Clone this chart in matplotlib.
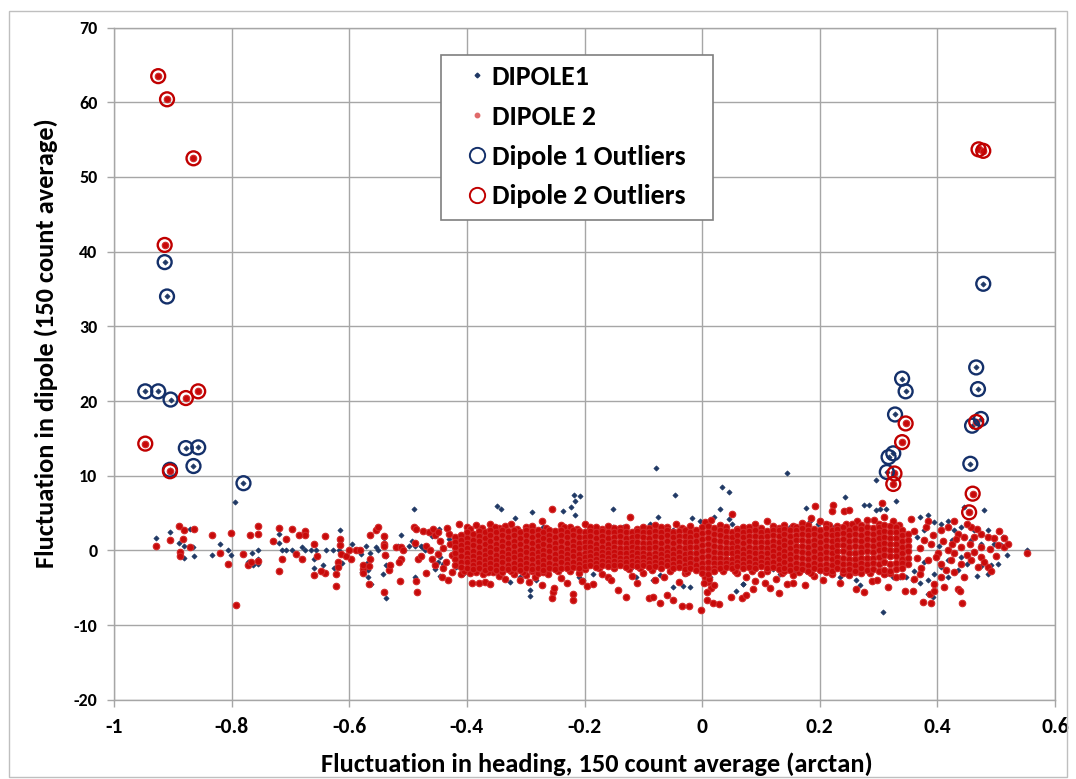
import matplotlib
matplotlib.use("Agg")
import matplotlib.pyplot as plt
import matplotlib.font_manager as fm
from matplotlib.lines import Line2D
from matplotlib.patches import Rectangle
import numpy as np


def _has_bold(name):
    for f in fm.fontManager.ttflist:
        if f.name != name:
            continue
        w = f.weight
        if isinstance(w, str):
            if w.lower() in ('bold', 'heavy', 'black', 'extra bold', 'semibold', 'demibold'):
                return True
            try:
                if int(w) >= 600:
                    return True
            except ValueError:
                pass
        elif w >= 600:
            return True
    return False


FONT = next(c for c in ['Carlito', 'Lato', 'Open Sans', 'Noto Sans', 'Liberation Sans', 'DejaVu Sans']
            if _has_bold(c))
plt.rcParams['font.family'] = [FONT, 'DejaVu Sans']
plt.rcParams['font.weight'] = 'bold'

# ---------------- data ----------------
# Dipole 1 outliers (ringed points)
d1_out_x = [-0.914, -0.910, -0.947, -0.925, -0.904, -0.878, -0.857, -0.865, -0.905, -0.780,
            0.478, 0.340, 0.346, 0.466, 0.469, 0.474, 0.459, 0.328, 0.325, 0.317, 0.314, 0.456]
d1_out_y = [38.6, 34.0, 21.3, 21.3, 20.2, 13.7, 13.8, 11.3, 10.8, 9.0,
            35.7, 23.0, 21.3, 24.5, 21.6, 17.6, 16.7, 18.2, 13.0, 12.5, 10.5, 11.6]
# Dipole 2 outliers (ringed points)
d2_out_x = [-0.925, -0.910, -0.865, -0.914, -0.878, -0.857, -0.947, -0.905,
            0.470, 0.478, 0.346, 0.340, 0.327, 0.325, 0.466, 0.460, 0.454]
d2_out_y = [63.5, 60.4, 52.5, 40.9, 20.4, 21.3, 14.3, 10.6,
            53.7, 53.5, 17.0, 14.5, 10.3, 8.9, 17.2, 7.6, 5.1]

# DIPOLE1 scattered points (x, y)
d1_left_pts = [
    (-0.928, 1.6), (-0.905, 2.4), (-0.871, 2.9), (-0.889, 1.0), (-0.881, 0.6), (-0.866, 0.4),
    (-0.881, -1.0), (-0.864, -0.7), (-0.820, 0.8), (-0.833, -0.6), (-0.806, 0.0), (-0.801, -0.6),
    (-0.794, 6.5), (-0.772, -1.5), (-0.764, -2.0), (-0.756, 0.0), (-0.766, -0.3), (-0.756, -1.2),
    (-0.756, -1.8), (-0.720, 2.2), (-0.720, 1.0), (-0.714, 0.0), (-0.708, 0.1), (-0.697, 0.0),
    (-0.680, 0.4), (-0.675, 0.0), (-0.665, 0.0), (-0.656, 0.0), (-0.660, -1.1), (-0.660, -2.4),
    (-0.644, -1.9), (-0.640, 0.0), (-0.628, 0.0), (-0.616, 2.7), (-0.616, 1.2), (-0.618, 0.1),
    (-0.620, -1.9), (-0.626, -2.3), (-0.612, -1.7), (-0.595, 0.8), (-0.580, -0.5), (-0.583, 0.1),
    (-0.568, -2.6), (-0.568, -3.5), (-0.570, -1.7), (-0.565, -0.3), (-0.572, 0.6), (-0.579, -2.9),
    (-0.563, -4.5), (-0.554, 0.5), (-0.551, 0.1), (-0.541, 1.6), (-0.537, -0.7), (-0.538, -2.0),
    (-0.543, -3.2), (-0.538, -6.4), (-0.517, 0.6), (-0.512, 2.0), (-0.507, 0.1), (-0.499, 0.6),
    (-0.494, 1.2), (-0.489, 0.6), (-0.490, 5.5), (-0.488, 2.9), (-0.488, -3.5), (-0.478, 0.6),
    (-0.471, 0.0), (-0.460, 1.9), (-0.448, 2.9), (-0.450, -1.5), (-0.455, -2.5), (-0.445, -3.4),
]
d1_core_pts = [
    (-0.477, 0.5), (-0.466, 0.2), (-0.452, 2.0), (-0.446, -0.9), (-0.418, -2.2), (-0.407, -3.1),
    (-0.378, 2.2), (-0.367, 2.5), (-0.359, -2.2), (-0.347, -2.9), (-0.338, -2.7), (-0.310, -2.2),
    (-0.293, -2.2), (-0.327, -4.2), (-0.310, -3.6), (-0.282, -4.0), (-0.270, 3.1), (-0.265, 2.0),
    (-0.231, -1.3), (-0.214, -2.2), (-0.203, -4.0), (-0.185, -3.1), (-0.171, 2.7), (-0.151, 3.1),
    (-0.140, 2.9), (-0.134, 3.2), (-0.112, -3.6), (-0.089, 3.6), (-0.083, -4.0), (-0.072, -3.3),
    (-0.049, 2.7), (-0.032, 2.7), (-0.049, -4.9), (-0.032, -4.7), (-0.021, -4.9), (-0.015, -1.3),
    (0.002, -2.2), (0.013, -3.6), (0.033, 2.7), (0.050, 3.6), (0.058, -5.4), (0.070, -4.5),
    (0.073, -2.2), (-0.349, 6.0), (-0.342, 5.5), (-0.319, 4.3), (-0.289, 5.2), (-0.237, 5.3),
    (-0.223, 5.8), (-0.216, 6.6), (-0.218, 7.4), (-0.207, 7.3), (-0.216, 4.7), (-0.151, 5.5),
    (-0.075, 4.5), (-0.0785, 11.1), (-0.046, 7.4), (-0.017, 4.4), (0.034, 8.5), (0.046, 7.8),
    (0.031, 5.5), (0.020, 4.5), (0.046, 4.2), (-0.004, 4.0), (-0.292, -5.3), (-0.292, -6.1),
    (-0.210, -3.6), (-0.430, 1.5), (-0.440, -1.8), (-0.400, 2.6), (-0.390, -2.7), (-0.250, -2.6),
    (-0.180, 2.6), (-0.120, -2.2), (-0.060, 2.8), (0.100, 2.9), (0.120, -2.5), (0.200, -2.8),
    (0.220, 3.1), (0.270, -2.8), (0.300, 3.3), (0.260, 3.2), (0.160, -2.7), (0.070, -4.5),
    (0.1435, 10.4), (0.177, 5.7), (0.149, 3.1), (0.183, 4.0), (0.197, 3.6), (0.243, 7.1),
    (0.276, 6.1), (0.284, 6.1), (0.296, 5.4), (0.302, 5.5), (0.313, 5.5), (0.295, 9.4),
    (0.330, 6.6), (0.132, -3.1), (0.177, -2.7), (0.234, -3.6), (0.262, -4.0), (0.268, -4.6),
    (0.313, -3.1), (0.324, -3.6), (0.336, -3.6), (0.347, -3.6), (0.308, -8.2),
]
d1_right_pts = [
    (0.358, -4.0), (0.370, -4.4), (0.384, -5.8), (0.392, -6.2), (0.370, 4.5), (0.384, 4.7),
    (0.395, 3.8), (0.406, 3.6), (0.418, 4.0), (0.446, 5.8), (0.480, 5.4), (0.429, 2.7),
    (0.440, 3.1), (0.463, 2.7), (0.486, 2.7), (0.457, 1.4), (0.474, 0.9), (0.497, 0.9),
    (0.508, 0.7), (0.518, -0.6), (0.553, 0.0), (0.463, -0.4), (0.440, -0.9), (0.418, -1.3),
    (0.406, -2.2), (0.395, -3.1), (0.384, -4.0), (0.418, -3.6), (0.451, -1.8), (0.474, -2.1),
    (0.491, -2.0), (0.503, -1.8), (0.486, -3.1), (0.365, 1.8), (0.378, -1.5), (0.402, 0.6),
    (0.425, 1.4), (0.435, -2.6), (0.468, -3.4), (0.512, 1.8), (0.378, 2.8), (0.360, -2.8),
]

# DIPOLE 2 scattered points (x, y)
d2_left_pts = [
    (-0.928, 0.6), (-0.889, 3.3), (-0.905, 1.4), (-0.881, 2.7), (-0.864, 2.9), (-0.882, 1.5),
    (-0.871, 0.5), (-0.888, -0.2), (-0.888, -0.7), (-0.833, 2.0), (-0.820, -0.3), (-0.801, 2.3),
    (-0.806, -1.8), (-0.793, -7.3), (-0.781, -0.5), (-0.772, -2.0), (-0.769, 2.0), (-0.755, 3.3),
    (-0.756, 2.2), (-0.768, -1.6), (-0.756, -1.4), (-0.730, 1.2), (-0.720, 3.0), (-0.719, -2.8),
    (-0.708, 1.5), (-0.697, 2.9), (-0.714, -1.1), (-0.691, -0.5), (-0.680, -1.1), (-0.675, 2.6),
    (-0.675, 2.0), (-0.685, 2.0), (-0.660, 0.9), (-0.655, -0.8), (-0.660, -3.3), (-0.641, 1.9),
    (-0.641, -3.0), (-0.648, -2.8), (-0.616, 1.5), (-0.616, 0.7), (-0.614, -0.5), (-0.620, -1.5),
    (-0.620, -2.2), (-0.622, -3.2), (-0.623, -4.8), (-0.598, -1.1), (-0.600, 0.0), (-0.605, -0.7),
    (-0.589, 0.1), (-0.582, 0.1), (-0.577, -2.5), (-0.577, -3.0), (-0.577, -2.0), (-0.567, -4.5),
    (-0.567, -2.1), (-0.565, -1.1), (-0.565, 2.0), (-0.554, 2.8), (-0.551, 3.2), (-0.541, 1.9),
    (-0.541, 0.9), (-0.541, 0.6), (-0.540, -0.6), (-0.532, -2.6), (-0.541, -5.6), (-0.530, -2.0),
    (-0.520, 0.5), (-0.512, 0.4), (-0.513, -4.1), (-0.512, -1.1), (-0.515, -1.5), (-0.508, 0.0),
    (-0.490, 3.2), (-0.488, 1.0), (-0.486, 2.9), (-0.487, -4.1), (-0.485, -5.6), (-0.484, -1.1),
    (-0.475, 2.6), (-0.465, 2.5), (-0.458, 2.9), (-0.455, 2.0), (-0.450, 2.4), (-0.470, -3.0),
    (-0.460, -1.2), (-0.450, -0.5), (-0.445, 1.2), (-0.440, 0.3), (-0.435, -1.6), (-0.430, 2.2),
    (-0.428, 0.8), (-0.425, -0.6), (-0.470, 0.6), (-0.462, 0.0), (-0.455, -2.0), (-0.440, -2.4),
    (-0.478, -0.8), (-0.434, 3.0),
]
# dense band: column positions and the y values stacked in each column
d2_core_x = [-0.42, -0.41, -0.40, -0.39, -0.38, -0.37, -0.36, -0.35, -0.34, -0.33,
             -0.32, -0.31, -0.30, -0.29, -0.28, -0.27, -0.26, -0.25, -0.24, -0.23,
             -0.22, -0.21, -0.20, -0.19, -0.18, -0.17, -0.16, -0.15, -0.14, -0.13,
             -0.12, -0.11, -0.10, -0.09, -0.08, -0.07, -0.06, -0.05, -0.04, -0.03,
             -0.02, -0.01, 0.00, 0.01, 0.02, 0.03, 0.04, 0.05, 0.06, 0.07,
             0.08, 0.09, 0.10, 0.11, 0.12, 0.13, 0.14, 0.15, 0.16, 0.17,
             0.18, 0.19, 0.20, 0.21, 0.22, 0.23, 0.24, 0.25, 0.26, 0.27,
             0.28, 0.29, 0.30, 0.31, 0.32, 0.33, 0.34, 0.35]
d2_core_y = [
    [1.8, 1.1, 0.4, -0.4, -1.1, -1.9],
    [2.1, 1.4, 0.7, 0.0, -0.8, -1.5, -2.2],
    [2.4, 1.7, 1.0, 0.3, -0.3, -1.0, -1.6, -2.3],
    [2.2, 1.4, 0.7, -0.1, -0.8, -1.4, -2.0, -2.5],
    [2.6, 1.9, 1.2, 0.5, -0.3, -1.0, -1.7, -2.4],
    [2.4, 1.6, 0.8, 0.1, -0.6, -1.3, -2.0, -2.6],
    [2.7, 2.0, 1.3, 0.5, -0.2, -1.0, -1.7, -2.4],
    [2.5, 1.7, 0.9, 0.2, -0.6, -1.3, -2.0, -2.6],
    [2.8, 2.1, 1.3, 0.6, -0.2, -0.9, -1.6, -2.3],
    [2.6, 1.8, 1.0, 0.2, -0.5, -1.2, -1.9, -2.5],
    [2.7, 2.0, 1.3, 0.6, -0.2, -0.9, -1.7, -2.4],
    [2.5, 1.7, 0.9, 0.1, -0.6, -1.3, -2.0, -2.6],
    [2.8, 2.1, 1.3, 0.5, -0.2, -1.0, -1.7, -2.4],
    [2.6, 1.8, 1.0, 0.2, -0.5, -1.2, -1.9, -2.5],
    [2.7, 2.0, 1.3, 0.6, -0.2, -0.9, -1.6, -2.3],
    [2.5, 1.7, 0.9, 0.1, -0.6, -1.3, -2.0, -2.6],
    [2.8, 2.1, 1.4, 0.6, -0.1, -0.9, -1.7, -2.4],
    [2.6, 1.8, 1.0, 0.3, -0.5, -1.2, -1.9, -2.5],
    [2.7, 2.0, 1.3, 0.5, -0.2, -0.9, -1.6, -2.3],
    [2.5, 1.8, 1.0, 0.2, -0.5, -1.2, -1.8, -2.4],
    [2.8, 2.1, 1.3, 0.6, -0.1, -0.8, -1.5, -2.2],
    [2.6, 1.8, 1.0, 0.3, -0.5, -1.1, -1.8, -2.4],
    [2.5, 1.8, 1.1, 0.4, -0.3, -0.9, -1.5, -2.1],
    [2.6, 1.9, 1.1, 0.4, -0.2, -0.8, -1.4, -2.0],
    [2.4, 1.7, 0.9, 0.2, -0.5, -1.1, -1.7, -2.2],
    [2.6, 1.9, 1.2, 0.5, -0.2, -0.8, -1.4, -1.9],
    [2.5, 1.7, 0.9, 0.2, -0.4, -1.0, -1.6, -2.1],
    [2.4, 1.8, 1.1, 0.4, -0.2, -0.8, -1.4, -1.9],
    [2.6, 1.9, 1.1, 0.3, -0.4, -1.0, -1.5, -2.0],
    [2.5, 1.7, 1.0, 0.3, -0.4, -1.0, -1.6, -2.2],
    [2.4, 1.8, 1.1, 0.4, -0.2, -0.8, -1.4, -1.9],
    [2.6, 1.9, 1.1, 0.3, -0.4, -1.0, -1.6, -2.1],
    [2.5, 1.8, 1.0, 0.3, -0.3, -0.9, -1.5, -2.0],
    [2.4, 1.7, 1.0, 0.3, -0.5, -1.1, -1.7, -2.2],
    [2.6, 1.9, 1.1, 0.4, -0.3, -0.9, -1.5, -2.1],
    [2.5, 1.8, 1.0, 0.2, -0.5, -1.1, -1.7, -2.3],
    [2.7, 2.0, 1.2, 0.5, -0.2, -0.8, -1.4, -2.0],
    [2.5, 1.8, 1.0, 0.2, -0.5, -1.2, -1.8, -2.4],
    [2.6, 1.9, 1.2, 0.5, -0.2, -0.9, -1.6, -2.2],
    [2.7, 1.9, 1.1, 0.3, -0.5, -1.2, -1.9, -2.5],
    [2.5, 1.8, 1.1, 0.4, -0.3, -1.0, -1.7, -2.3],
    [2.8, 2.0, 1.2, 0.4, -0.4, -1.1, -1.9, -2.6],
    [3.1, 2.3, 1.5, 0.7, -0.1, -0.9, -1.7, -2.4, -3.0],
    [3.3, 2.5, 1.7, 0.9, 0.1, -0.7, -1.5, -2.3, -3.2],
    [3.0, 2.2, 1.4, 0.6, -0.2, -1.0, -1.7, -2.3, -2.8],
    [2.7, 2.0, 1.2, 0.4, -0.3, -1.0, -1.7, -2.4],
    [2.6, 1.8, 1.1, 0.3, -0.4, -1.1, -1.7, -2.2],
    [2.5, 1.8, 1.0, 0.3, -0.4, -1.1, -1.8, -2.4],
    [2.7, 2.0, 1.2, 0.5, -0.2, -0.9, -1.5, -2.1],
    [2.5, 1.8, 1.0, 0.2, -0.5, -1.2, -1.8, -2.3],
    [2.6, 1.9, 1.2, 0.5, -0.2, -0.9, -1.6, -2.2],
    [2.7, 1.9, 1.1, 0.3, -0.4, -1.1, -1.8, -2.4],
    [2.5, 1.8, 1.1, 0.4, -0.3, -0.9, -1.5, -2.1],
    [2.6, 1.9, 1.1, 0.3, -0.4, -1.1, -1.7, -2.3],
    [2.8, 2.1, 1.3, 0.6, -0.1, -0.8, -1.5, -2.2],
    [2.7, 1.9, 1.1, 0.3, -0.5, -1.2, -1.9, -2.5],
    [2.9, 2.2, 1.4, 0.7, -0.1, -0.8, -1.6, -2.3],
    [2.7, 1.9, 1.1, 0.3, -0.5, -1.2, -1.9, -2.6],
    [2.8, 2.1, 1.4, 0.6, -0.1, -0.9, -1.7, -2.4],
    [3.0, 2.2, 1.4, 0.6, -0.2, -1.0, -1.8, -2.5],
    [2.8, 2.0, 1.2, 0.4, -0.4, -1.2, -2.0, -2.7],
    [2.9, 2.2, 1.4, 0.7, -0.1, -0.9, -1.7, -2.4],
    [2.7, 1.9, 1.1, 0.3, -0.5, -1.2, -1.9, -2.6],
    [3.0, 2.2, 1.4, 0.6, -0.2, -1.0, -1.8, -2.5],
    [2.8, 2.0, 1.2, 0.4, -0.4, -1.2, -2.0, -2.7],
    [2.9, 2.2, 1.4, 0.7, -0.1, -0.9, -1.6, -2.4],
    [3.1, 2.3, 1.5, 0.7, -0.1, -1.0, -1.8, -2.6],
    [2.8, 2.0, 1.2, 0.4, -0.4, -1.1, -1.8, -2.5],
    [3.0, 2.2, 1.4, 0.6, -0.3, -1.1, -1.9, -2.7],
    [2.9, 2.1, 1.3, 0.5, -0.2, -1.0, -1.7, -2.4],
    [3.1, 2.3, 1.5, 0.7, -0.1, -1.0, -1.8, -2.6],
    [3.0, 2.2, 1.4, 0.6, -0.2, -1.0, -1.7, -2.5],
    [3.2, 2.4, 1.6, 0.8, 0.0, -0.9, -1.8, -2.7],
    [3.4, 2.6, 1.8, 1.0, 0.2, -0.6, -1.5, -2.6],
    [3.3, 2.5, 1.7, 0.9, 0.1, -0.8, -1.8, -2.8],
    [3.2, 2.4, 1.6, 0.8, 0.0, -0.8, -1.7, -2.5],
    [2.8, 2.0, 1.2, 0.4, -0.4, -1.1, -1.7, -2.3],
    [2.2, 1.4, 0.6, -0.1, -1.0, -1.8],
]
d2_spread_pts = [
    (-0.414, 3.6), (-0.400, 3.1), (-0.385, 3.4), (-0.360, 3.6), (-0.345, 3.0), (-0.325, 3.5),
    (-0.300, 3.2), (-0.272, 4.0), (-0.256, 5.6), (-0.240, 3.4), (-0.225, 3.1), (-0.200, 3.5),
    (-0.180, 3.1), (-0.160, 3.3), (-0.140, 3.0), (-0.122, 4.5), (-0.100, 3.2), (-0.080, 3.4),
    (-0.060, 3.1), (-0.045, 3.6), (-0.020, 3.3), (0.005, 3.8), (0.015, 4.1), (0.030, 3.4),
    (0.050, 4.9), (0.070, 3.2), (0.090, 3.6), (0.110, 3.9), (0.130, 3.0), (0.155, 3.3),
    (0.185, 4.3), (0.200, 3.9), (0.192, 6.0), (0.223, 6.1), (0.221, 5.3), (0.241, 5.3),
    (0.250, 5.4), (0.305, 6.3), (0.264, 3.9), (0.280, 4.1), (0.293, 4.1), (0.310, 4.5),
    (0.245, 3.6), (0.215, 3.4), (0.170, 3.7), (0.325, 3.9),
    (-0.395, 2.9), (-0.375, 3.0), (-0.352, 3.2), (-0.335, 3.3), (-0.315, 2.9), (-0.290, 3.3),
    (-0.265, 3.0), (-0.235, 3.2), (-0.212, 2.9), (-0.190, 3.2), (-0.170, 2.9), (-0.150, 3.0),
    (-0.130, 3.2), (-0.110, 2.9), (-0.090, 3.0), (-0.070, 3.1), (-0.035, 3.0), (0.040, 3.1),
    (0.060, 2.9), (0.080, 3.1), (0.100, 3.0), (0.120, 3.3), (0.140, 3.4), (0.160, 3.2),
    (0.180, 3.4), (0.210, 3.5), (0.230, 3.3), (0.255, 3.5), (0.270, 3.4), (0.300, 3.6),
    (0.335, 3.4),
    (-0.443, -3.5), (-0.433, -3.9), (-0.425, -2.9), (-0.410, -3.2), (-0.391, -4.3), (-0.380, -4.4),
    (-0.370, -4.2), (-0.360, -4.5), (-0.395, -3.0), (-0.372, -3.2), (-0.355, -2.9), (-0.345, -3.4),
    (-0.335, -3.8), (-0.320, -3.1), (-0.310, -4.0), (-0.300, -3.3), (-0.285, -3.5), (-0.272, -4.6),
    (-0.262, -3.2), (-0.254, -5.6), (-0.252, -5.0), (-0.256, -6.4), (-0.240, -3.7), (-0.230, -4.4),
    (-0.219, -5.8), (-0.219, -6.6), (-0.210, -3.0), (-0.205, -4.1), (-0.280, -3.0), (-0.295, -4.2),
    (-0.195, -4.8), (-0.185, -4.5), (-0.170, -3.2), (-0.160, -3.6), (-0.143, -5.3), (-0.130, -6.3),
    (-0.155, -4.0), (-0.120, -3.4), (-0.110, -4.3), (-0.100, -3.0), (-0.090, -6.4), (-0.083, -6.2),
    (-0.072, -7.0), (-0.060, -6.0), (-0.050, -6.6), (-0.080, -4.0), (-0.065, -3.5), (-0.040, -4.2),
    (-0.030, -3.0), (-0.034, -7.5), (-0.022, -7.4), (-0.002, -8.0), (0.009, -6.6), (0.018, -7.0),
    (0.029, -7.2), (0.049, -6.2), (0.067, -6.4), (0.005, -3.5), (0.010, -4.2), (0.015, -5.0),
    (0.008, -5.6), (0.020, -4.6), (0.012, -3.8), (0.003, -4.4), (0.060, -3.0), (0.075, -3.6),
    (0.090, -4.1), (0.100, -3.2), (0.115, -5.0), (0.125, -3.8), (0.135, -3.0), (0.145, -4.5),
    (0.155, -3.3), (0.075, -6.0), (0.087, -5.2), (0.107, -4.4), (0.131, -5.7), (0.155, -4.3),
    (0.175, -4.6), (0.190, -3.4), (0.206, -3.9), (0.234, -4.4), (0.262, -5.1), (0.275, -5.6),
    (0.288, -4.1), (0.298, -4.0), (0.316, -4.9), (0.330, -3.5), (0.345, -5.4), (0.358, -5.4),
    (0.220, -3.2), (0.250, -3.3), (0.270, -3.0), (0.310, -3.2), (0.340, -3.4),
    (-0.405, -2.8), (-0.385, -2.9), (-0.365, -2.9), (-0.340, -2.9), (-0.325, -2.8), (-0.305, -2.9),
    (-0.290, -2.8), (-0.270, -2.9), (-0.245, -2.8), (-0.225, -2.7), (-0.200, -2.5), (-0.175, -2.4),
    (-0.150, -2.4), (-0.125, -2.5), (-0.105, -2.4), (-0.085, -2.6), (-0.055, -2.7), (-0.025, -2.9),
    (0.035, -2.8), (0.055, -2.7), (0.085, -2.7), (0.110, -2.7), (0.140, -2.8), (0.165, -2.9),
    (0.185, -3.0), (0.210, -2.9), (0.240, -3.0), (0.260, -2.9), (0.285, -3.0), (0.320, -3.0),
]
d2_right_pts = [
    (0.384, 4.0), (0.406, 2.7), (0.418, 3.1), (0.429, 4.0), (0.435, 2.2), (0.446, 1.8),
    (0.457, 3.1), (0.463, 1.8), (0.474, 2.2), (0.486, 1.8), (0.497, 1.6), (0.514, 1.6),
    (0.514, 0.5), (0.503, 0.7), (0.474, 0.5), (0.463, -0.2), (0.440, 0.5), (0.429, -0.4),
    (0.418, 0.0), (0.401, -0.4), (0.389, 0.9), (0.378, 1.4), (0.384, -1.3), (0.406, -1.8),
    (0.423, -1.3), (0.440, -1.8), (0.457, -1.3), (0.474, -0.9), (0.486, -2.2), (0.491, -2.7),
    (0.406, -3.6), (0.412, -4.9), (0.395, -4.5), (0.429, -2.9), (0.446, -3.6), (0.469, -2.2),
    (0.553, -0.3), (0.375, -6.9), (0.389, -7.0), (0.387, -5.8), (0.395, -5.4), (0.435, -5.1),
    (0.439, -5.4), (0.442, -7.0), (0.360, 2.6), (0.365, -1.0), (0.370, 0.3), (0.372, -2.4),
    (0.380, 3.2), (0.392, 2.0), (0.398, -0.9), (0.410, 1.2), (0.415, -2.6), (0.425, 0.8),
    (0.432, 1.5), (0.450, -0.6), (0.455, 0.9), (0.468, 2.9), (0.480, -1.6), (0.490, 0.2),
    (0.500, -0.8), (0.505, 2.6), (0.520, 0.8), (0.450, 3.6), (0.360, -3.8), (0.370, -3.2),
    (0.355, 4.2),
]

x_ticks = [-1, -0.8, -0.6, -0.4, -0.2, 0, 0.2, 0.4, 0.6]
x_tick_labels = ['-1', '-0.8', '-0.6', '-0.4', '-0.2', '0', '0.2', '0.4', '0.6']
y_ticks = [-20, -10, 0, 10, 20, 30, 40, 50, 60, 70]
y_tick_labels = ['-20', '-10', '0', '10', '20', '30', '40', '50', '60', '70']

# ---------------- assemble series ----------------
d1_pts = d1_left_pts + d1_core_pts + d1_right_pts
d1_x = np.array([p[0] for p in d1_pts] + d1_out_x)
d1_y = np.array([p[1] for p in d1_pts] + d1_out_y)

core_x = [cx for cx, ys in zip(d2_core_x, d2_core_y) for _ in ys]
core_y = [v for ys in d2_core_y for v in ys]
d2_pts = d2_left_pts + d2_spread_pts + d2_right_pts
d2_x = np.array([p[0] for p in d2_pts] + core_x + d2_out_x)
d2_y = np.array([p[1] for p in d2_pts] + core_y + d2_out_y)

# ---------------- figure ----------------
W, H = 1076, 779
fig = plt.figure(figsize=(W / 100, H / 100), dpi=100)
fig.patch.set_facecolor('white')
L, R, T, B = 114.1, 1055.0, 27.6, 699.8
ax = fig.add_axes([L / W, 1 - B / H, (R - L) / W, (B - T) / H])
ax.set_xlim(-1, 0.6)
ax.set_ylim(-20, 70)

grid_c = '#A6A6A6'
ax.set_xticks(x_ticks)
ax.set_xticklabels(x_tick_labels, fontsize=15.5, fontweight='bold')
ax.set_yticks(y_ticks)
ax.set_yticklabels(y_tick_labels, fontsize=13, fontweight='bold')
ax.tick_params(axis='both', direction='out', length=5, width=1, color=grid_c)
ax.tick_params(axis='x', pad=7.5)
ax.tick_params(axis='y', pad=7)
ax.grid(True, color=grid_c, linewidth=1)
ax.set_axisbelow(True)
for s in ax.spines.values():
    s.set_color(grid_c)
    s.set_linewidth(1)

blue = '#1F3864'
red = '#C80A0A'
red_edge = '#D22A2A'

ax.scatter(d1_x, d1_y, marker='D', s=7, color=blue, edgecolors=blue, linewidths=0.5, zorder=2)
ax.scatter(d2_x, d2_y, marker='o', s=22, color=red, edgecolors=red_edge, linewidths=0.8, zorder=3)
ax.scatter(d1_out_x, d1_out_y, marker='o', s=100, facecolors='none', edgecolors='#14306A',
           linewidths=1.7, zorder=4)
ax.scatter(d2_out_x, d2_out_y, marker='o', s=100, facecolors='none', edgecolors='#C00000',
           linewidths=1.7, zorder=4)

# legend
fig.patches.append(Rectangle((441 / W, 1 - 220 / H), (713 - 441) / W, (220 - 55) / H,
                             transform=fig.transFigure, facecolor='white',
                             edgecolor='#7F7F7F', linewidth=1.2, zorder=10))
handles = [
    Line2D([], [], linestyle='none', marker='D', markersize=2.4, color=blue),
    Line2D([], [], linestyle='none', marker='o', markersize=3.2, color='#E06A6A'),
    Line2D([], [], linestyle='none', marker='o', markersize=11, markerfacecolor='none',
           markeredgecolor='#14306A', markeredgewidth=1.4),
    Line2D([], [], linestyle='none', marker='o', markersize=11, markerfacecolor='none',
           markeredgecolor='#C00000', markeredgewidth=1.4),
]
labels = ['DIPOLE1', 'DIPOLE 2', 'Dipole 1 Outliers', 'Dipole 2 Outliers']
leg = fig.legend(handles, labels, loc='upper left',
                 bbox_to_anchor=(463 / W, 1 - 65 / H), bbox_transform=fig.transFigure,
                 frameon=False, borderpad=0, borderaxespad=0, handlelength=1.0,
                 handletextpad=0.03, labelspacing=0.57,
                 prop={'family': [FONT, 'DejaVu Sans'], 'weight': 'bold', 'size': 20})
leg.set_zorder(11)

# axis titles
fig.text(597 / W, 1 - 764 / H, 'Fluctuation in heading, 150 count average (arctan)',
         ha='center', va='center', fontsize=19, fontweight='bold')
fig.text(46 / W, 1 - 343 / H, 'Fluctuation in dipole (150 count average)',
         ha='center', va='center', rotation=90, fontsize=19, fontweight='bold')

# chart-area border
fig.patches.append(Rectangle((9 / W, 1 - 777 / H), (1067 - 9) / W, (777 - 11) / H,
                             transform=fig.transFigure, fill=False,
                             edgecolor='#BFBFBF', linewidth=1))

fig.savefig('out.png', dpi=100)
